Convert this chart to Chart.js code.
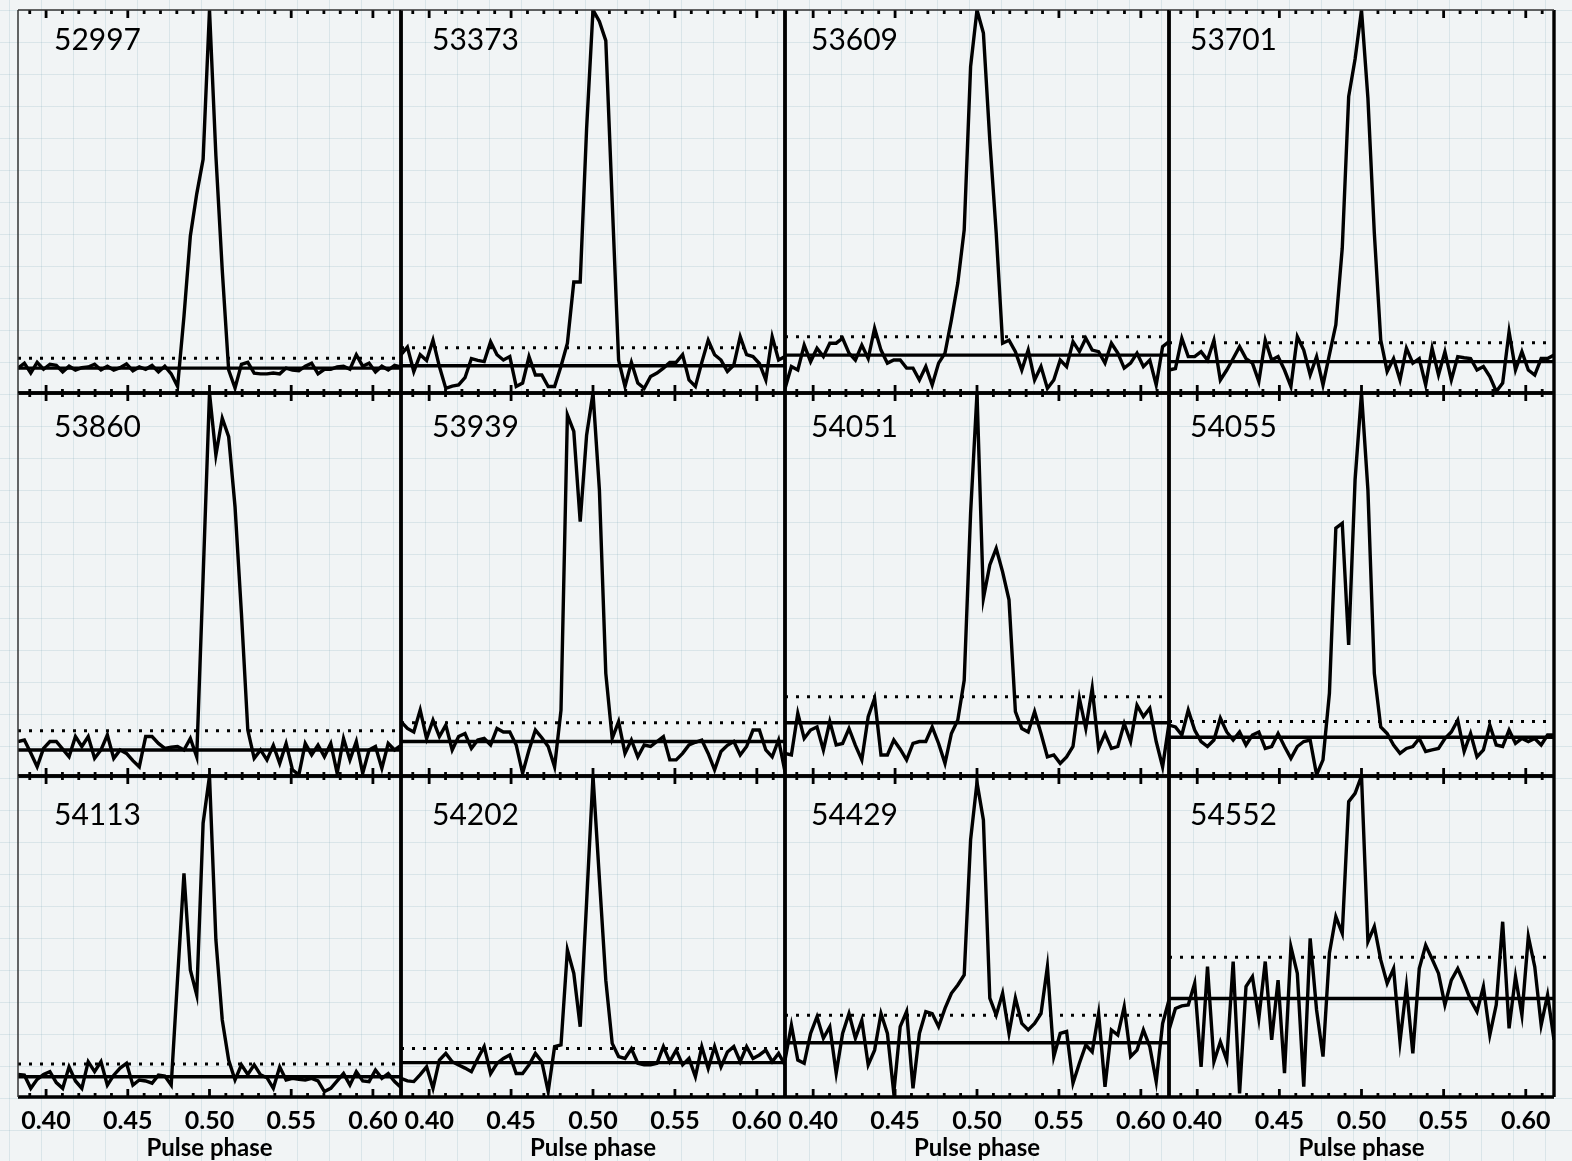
<!DOCTYPE html>
<html>
<head>
<meta charset="utf-8">
<script src="https://cdn.jsdelivr.net/npm/chart.js@4/dist/chart.umd.min.js"></script>
<style>
  html, body { margin: 0; padding: 0; }
  body {
    width: 1572px;
    height: 1161px;
    overflow: hidden;
    position: relative;
    background-color: #f1f4f5;
    background-image:
      linear-gradient(to right, rgba(150, 185, 195, 0.26) 1.5px, transparent 1.5px),
      linear-gradient(to bottom, rgba(150, 185, 195, 0.26) 1.5px, transparent 1.5px);
    background-size: 32px 32px;
    background-position: 9px 10px;
  }
  canvas { position: absolute; }
</style>
</head>
<body>
<script>
// MJD of each profile, row by row
const epochs = ['52997', '53373', '53609', '53701',
                '53860', '53939', '54051', '54055',
                '54113', '54202', '54429', '54552'];

// phase bins shown: 256 bins per turn, bins 98..158
const binsPerTurn = 256;
const firstBin = 98;
const lastBin = 158;

// profiles, normalised so the peak = 1 (one value per bin)
const p52997 = [0.065, 0.078, 0.052, 0.08, 0.062, 0.075, 0.072, 0.055, 0.07, 0.06,
  0.066, 0.068, 0.075, 0.06, 0.07, 0.06, 0.066, 0.076, 0.058, 0.068,
  0.062, 0.072, 0.055, 0.07, 0.05, 0.017, 0.2, 0.41, 0.52, 0.61,
  1.0, 0.62, 0.32, 0.06, 0.013, 0.075, 0.08, 0.052, 0.05, 0.05,
  0.052, 0.05, 0.065, 0.06, 0.058, 0.07, 0.078, 0.05, 0.062, 0.062,
  0.068, 0.07, 0.062, 0.1, 0.07, 0.078, 0.055, 0.07, 0.06, 0.072, 0.068];
const p53373 = [0.10, 0.12, 0.056, 0.10, 0.085, 0.138, 0.069, 0.012, 0.018, 0.021,
  0.04, 0.09, 0.085, 0.082, 0.134, 0.10, 0.086, 0.095, 0.017, 0.026,
  0.095, 0.047, 0.047, 0.017, 0.017, 0.07, 0.13, 0.29, 0.29, 0.69,
  1.0, 0.97, 0.92, 0.5, 0.086, 0.017, 0.08, 0.026, 0.012, 0.043,
  0.052, 0.065, 0.08, 0.08, 0.1, 0.034, 0.017, 0.08, 0.138, 0.1,
  0.086, 0.056, 0.073, 0.147, 0.1, 0.095, 0.077, 0.034, 0.147, 0.086, 0.095];
const p53609 = [0.012, 0.069, 0.06, 0.125, 0.082, 0.117, 0.095, 0.13, 0.13, 0.143,
  0.104, 0.086, 0.125, 0.09, 0.169, 0.112, 0.078, 0.086, 0.086, 0.065,
  0.065, 0.034, 0.069, 0.021, 0.078, 0.104, 0.191, 0.287, 0.426, 0.852,
  1.0, 0.94, 0.66, 0.418, 0.13, 0.138, 0.108, 0.06, 0.112, 0.034,
  0.069, 0.012, 0.034, 0.086, 0.069, 0.134, 0.108, 0.143, 0.112, 0.108,
  0.078, 0.13, 0.104, 0.065, 0.078, 0.104, 0.069, 0.086, 0.021, 0.121, 0.134];
const p53701 = [0.06, 0.064, 0.143, 0.095, 0.095, 0.108, 0.086, 0.138, 0.034, 0.06,
  0.09, 0.121, 0.09, 0.078, 0.03, 0.138, 0.086, 0.095, 0.06, 0.017,
  0.147, 0.112, 0.047, 0.095, 0.021, 0.1, 0.178, 0.378, 0.774, 0.872,
  1.0, 0.77, 0.417, 0.138, 0.056, 0.09, 0.034, 0.117, 0.078, 0.09,
  0.021, 0.117, 0.047, 0.108, 0.034, 0.095, 0.092, 0.09, 0.06, 0.069,
  0.043, 0.004, 0.026, 0.16, 0.06, 0.108, 0.06, 0.047, 0.09, 0.09, 0.099];
const p53860 = [0.09, 0.094, 0.06, 0.024, 0.072, 0.09, 0.09, 0.07, 0.05, 0.103,
  0.077, 0.103, 0.046, 0.068, 0.107, 0.046, 0.068, 0.059, 0.04, 0.024,
  0.103, 0.103, 0.085, 0.072, 0.075, 0.077, 0.068, 0.098, 0.05, 0.52,
  1.0, 0.838, 0.934, 0.886, 0.703, 0.425, 0.12, 0.046, 0.068, 0.042,
  0.08, 0.033, 0.085, 0.016, 0.003, 0.085, 0.055, 0.081, 0.05, 0.085,
  0.007, 0.098, 0.042, 0.09, 0.007, 0.068, 0.077, 0.02, 0.085, 0.068, 0.08];
const p53939 = [0.142, 0.124, 0.115, 0.172, 0.098, 0.146, 0.103, 0.133, 0.068, 0.103,
  0.111, 0.072, 0.094, 0.098, 0.081, 0.124, 0.115, 0.115, 0.081, 0.007,
  0.068, 0.12, 0.1, 0.077, 0.024, 0.172, 0.943, 0.9, 0.664, 0.89,
  1.0, 0.747, 0.268, 0.098, 0.142, 0.059, 0.094, 0.05, 0.081, 0.077,
  0.09, 0.103, 0.042, 0.042, 0.059, 0.081, 0.088, 0.094, 0.059, 0.016,
  0.064, 0.08, 0.09, 0.055, 0.077, 0.12, 0.12, 0.068, 0.05, 0.094, 0.011];
const p54051 = [0.059, 0.055, 0.164, 0.098, 0.12, 0.128, 0.068, 0.142, 0.081, 0.085,
  0.124, 0.08, 0.042, 0.155, 0.203, 0.055, 0.055, 0.094, 0.07, 0.042,
  0.085, 0.09, 0.09, 0.128, 0.085, 0.033, 0.111, 0.146, 0.25, 0.686,
  1.0, 0.464, 0.551, 0.594, 0.533, 0.46, 0.168, 0.124, 0.115, 0.168,
  0.111, 0.05, 0.055, 0.033, 0.05, 0.077, 0.203, 0.124, 0.229, 0.072,
  0.111, 0.072, 0.077, 0.137, 0.09, 0.185, 0.155, 0.177, 0.09, 0.024, 0.137];
const p54055 = [0.133, 0.128, 0.107, 0.172, 0.12, 0.09, 0.077, 0.094, 0.151, 0.115,
  0.094, 0.115, 0.081, 0.107, 0.115, 0.072, 0.077, 0.111, 0.077, 0.046,
  0.077, 0.09, 0.094, 0.003, 0.042, 0.216, 0.647, 0.66, 0.342, 0.773,
  1.0, 0.747, 0.268, 0.128, 0.111, 0.081, 0.059, 0.072, 0.077, 0.098,
  0.064, 0.068, 0.072, 0.098, 0.115, 0.146, 0.064, 0.111, 0.05, 0.068,
  0.133, 0.081, 0.077, 0.12, 0.085, 0.098, 0.09, 0.098, 0.081, 0.107, 0.107];
const p54113 = [0.07, 0.068, 0.027, 0.055, 0.07, 0.079, 0.045, 0.027, 0.094, 0.05,
  0.027, 0.11, 0.079, 0.11, 0.037, 0.068, 0.09, 0.105, 0.037, 0.053,
  0.05, 0.043, 0.068, 0.065, 0.037, 0.37, 0.697, 0.396, 0.318, 0.853,
  1.0, 0.49, 0.24, 0.115, 0.053, 0.1, 0.07, 0.1, 0.069, 0.06,
  0.027, 0.094, 0.053, 0.058, 0.055, 0.053, 0.058, 0.05, 0.017, 0.027,
  0.05, 0.073, 0.037, 0.079, 0.05, 0.048, 0.084, 0.058, 0.073, 0.048, 0.03];
const p54202 = [0.058, 0.05, 0.048, 0.07, 0.094, 0.027, 0.115, 0.136, 0.11, 0.1,
  0.09, 0.079, 0.12, 0.157, 0.073, 0.105, 0.12, 0.131, 0.073, 0.073,
  0.1, 0.136, 0.11, 0.017, 0.157, 0.162, 0.458, 0.385, 0.219, 0.607,
  1.0, 0.68, 0.364, 0.167, 0.126, 0.12, 0.15, 0.105, 0.1, 0.1,
  0.105, 0.157, 0.11, 0.146, 0.1, 0.12, 0.063, 0.157, 0.089, 0.157,
  0.094, 0.14, 0.157, 0.11, 0.157, 0.12, 0.131, 0.146, 0.11, 0.136, 0.1];
const p54429 = [0.115, 0.224, 0.115, 0.105, 0.198, 0.25, 0.183, 0.219, 0.074, 0.198,
  0.26, 0.183, 0.239, 0.1, 0.146, 0.26, 0.198, 0.012, 0.219, 0.266,
  0.027, 0.198, 0.266, 0.26, 0.219, 0.276, 0.323, 0.349, 0.38, 0.801,
  0.98, 0.863, 0.308, 0.255, 0.323, 0.198, 0.308, 0.229, 0.209, 0.229,
  0.26, 0.406, 0.126, 0.198, 0.204, 0.043, 0.105, 0.162, 0.141, 0.26,
  0.032, 0.209, 0.193, 0.281, 0.126, 0.146, 0.209, 0.157, 0.048, 0.229, 0.302];
const p54552 = [0.209, 0.276, 0.284, 0.287, 0.354, 0.094, 0.406, 0.11, 0.172, 0.115,
  0.422, 0.011, 0.344, 0.375, 0.245, 0.422, 0.178, 0.364, 0.074, 0.468,
  0.385, 0.032, 0.494, 0.271, 0.126, 0.448, 0.562, 0.51, 0.92, 0.946,
  1.0, 0.484, 0.531, 0.427, 0.354, 0.4, 0.172, 0.344, 0.136, 0.4,
  0.473, 0.43, 0.385, 0.287, 0.364, 0.4, 0.354, 0.302, 0.266, 0.344,
  0.193, 0.287, 0.546, 0.214, 0.375, 0.255, 0.5, 0.406, 0.224, 0.318, 0.178];

const profiles = [p52997, p53373, p53609, p53701, p53860, p53939,
                  p54051, p54055, p54113, p54202, p54429, p54552];

// solid line: off-pulse mean; dotted line: threshold level
const meanLevel   = [0.065, 0.071, 0.099, 0.082, 0.068, 0.09, 0.139, 0.101, 0.063, 0.107, 0.169, 0.307];
const threshLevel = [0.091, 0.118, 0.147, 0.131, 0.118, 0.139, 0.207, 0.142, 0.103, 0.151, 0.255, 0.435];

// x axis ticks
const tickValues = [0.40, 0.45, 0.50, 0.55, 0.60];
const tickLabels = ['0.40', '0.45', '0.50', '0.55', '0.60'];
const minorTickValues = [0.39, 0.41, 0.42, 0.43, 0.44, 0.46, 0.47, 0.48, 0.49,
  0.51, 0.52, 0.53, 0.54, 0.56, 0.57, 0.58, 0.59, 0.61];

const phase = [];
for (let b = firstBin; b <= lastBin; b++) phase.push(b / binsPerTurn);
const xMin = firstBin / binsPerTurn;
const xMax = lastBin / binsPerTurn;

// page layout (px)
const colEdge = [18, 401, 785, 1169, 1554];
const rowEdge = [10, 393, 776, 1097];
const labelDx = [36, 31, 26, 21];
const labelDy = [40, 44, 49];
const M = 3;        // margin so the frame is not cut
const AXIS_H = 64;  // tick labels + title under the last row
const LW = 3.4;     // line width of curves and frame

function framePlugin(r, c, label) {
  return {
    id: 'frame',
    afterDatasetsDraw(chart) {
      const { ctx, chartArea: a } = chart;
      const x = chart.scales.x;
      ctx.save();
      ctx.strokeStyle = '#000';
      ctx.lineCap = 'butt';

      // ticks on top and bottom edges, pointing in
      ctx.lineWidth = 2.8;
      ctx.beginPath();
      tickValues.forEach(v => {
        const px = x.getPixelForValue(v);
        ctx.moveTo(px, a.top); ctx.lineTo(px, a.top + 8);
        ctx.moveTo(px, a.bottom); ctx.lineTo(px, a.bottom - 8);
      });
      minorTickValues.forEach(v => {
        const px = x.getPixelForValue(v);
        ctx.moveTo(px, a.top); ctx.lineTo(px, a.top + 4);
        ctx.moveTo(px, a.bottom); ctx.lineTo(px, a.bottom - 4);
      });
      ctx.stroke();

      // frame
      ctx.lineWidth = LW;
      ctx.beginPath();
      ctx.moveTo(a.left, a.bottom); ctx.lineTo(a.right, a.bottom);
      ctx.moveTo(a.right, a.top); ctx.lineTo(a.right, a.bottom);
      if (c > 0) { ctx.moveTo(a.left, a.top); ctx.lineTo(a.left, a.bottom); }
      if (r > 0) { ctx.moveTo(a.left, a.top); ctx.lineTo(a.right, a.top); }
      ctx.stroke();

      ctx.lineWidth = 1.5;
      ctx.strokeStyle = '#333';
      ctx.beginPath();
      if (c === 0) { ctx.moveTo(a.left, a.top); ctx.lineTo(a.left, a.bottom); }
      if (r === 0) { ctx.moveTo(a.left, a.top); ctx.lineTo(a.right, a.top); }
      ctx.stroke();

      ctx.fillStyle = '#000';
      ctx.font = '30px Lato';
      ctx.textBaseline = 'alphabetic';
      ctx.fillText(label, a.left + labelDx[c], a.top + labelDy[r]);
      ctx.restore();
    }
  };
}

profiles.forEach((prof, i) => {
  const r = Math.floor(i / 4);
  const c = i % 4;
  const isBottom = r === 2;

  const cv = document.createElement('canvas');
  const w = colEdge[c + 1] - colEdge[c] + 2 * M;
  const h = rowEdge[r + 1] - rowEdge[r] + M + (isBottom ? AXIS_H : M);
  cv.width = w;
  cv.height = h;
  cv.style.left = (colEdge[c] - M) + 'px';
  cv.style.top = (rowEdge[r] - M) + 'px';
  document.body.appendChild(cv);

  const xScale = {
    type: 'linear',
    min: xMin,
    max: xMax,
    display: isBottom,
    grid: { display: false, drawTicks: false },
    border: { display: false },
    ticks: {
      autoSkip: false,
      maxRotation: 0,
      color: '#000',
      padding: 9,
      font: { family: 'Lato', size: 25, weight: 'bold' },
      callback: (v, idx) => tickLabels[idx]
    },
    title: {
      display: true,
      text: 'Pulse phase',
      color: '#000',
      font: { family: 'Lato', size: 24, weight: 'bold', lineHeight: 1.05 },
      padding: { top: 0, bottom: 0 }
    }
  };
  if (isBottom) {
    xScale.afterBuildTicks = s => { s.ticks = tickValues.map(v => ({ value: v })); };
    xScale.afterFit = s => { s.height = AXIS_H; s.paddingLeft = 0; s.paddingRight = 0; };
  }

  new Chart(cv, {
    type: 'line',
    data: {
      datasets: [
        {
          data: prof.map((v, k) => ({ x: phase[k], y: v })),
          borderColor: '#000',
          borderWidth: LW,
          pointRadius: 0,
          tension: 0
        },
        {
          data: [{ x: xMin, y: meanLevel[i] }, { x: xMax, y: meanLevel[i] }],
          borderColor: '#000',
          borderWidth: LW,
          pointRadius: 0
        },
        {
          data: [{ x: xMin, y: threshLevel[i] }, { x: xMax, y: threshLevel[i] }],
          borderColor: '#000',
          borderWidth: 3,
          borderDash: [3, 8],
          pointRadius: 0
        }
      ]
    },
    options: {
      responsive: false,
      animation: false,
      devicePixelRatio: 1,
      layout: { padding: { left: M, right: M, top: M, bottom: isBottom ? 0 : M } },
      plugins: {
        legend: { display: false },
        tooltip: { enabled: false }
      },
      scales: {
        x: xScale,
        y: { min: 0, max: 1, display: false }
      }
    },
    plugins: [framePlugin(r, c, epochs[i])]
  });
});
</script>
</body>
</html>
